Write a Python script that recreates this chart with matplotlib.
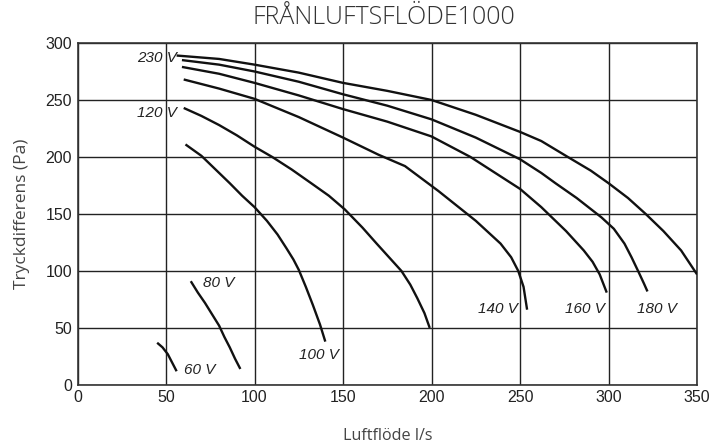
import matplotlib.pyplot as plt

# Fläktkurvor (luftflöde l/s, tryck Pa)
v230_x = [56, 80, 100, 125, 150, 175, 200, 225, 250, 262, 277, 290, 300, 311, 321, 331, 341, 350]
v230_y = [289, 286, 281, 274, 265, 258, 250, 237, 222, 214, 200, 188, 177, 164, 150, 135, 118, 97]

v180_x = [59, 80, 100, 125, 150, 175, 200, 225, 250, 262, 270, 282, 296, 303, 309, 313, 317, 320, 322]
v180_y = [285, 281, 275, 266, 255, 245, 233, 217, 198, 186, 177, 164, 147, 137, 124, 112, 99, 89, 82]

v160_x = [59, 80, 100, 125, 150, 175, 200, 222, 240, 250, 262, 276, 286, 291, 295, 299]
v160_y = [279, 273, 265, 254, 242, 231, 218, 200, 182, 172, 156, 135, 118, 108, 97, 81]

v140_x = [60, 80, 100, 125, 150, 170, 185, 204, 225, 239, 245, 249, 252, 254]
v140_y = [268, 260, 251, 235, 217, 202, 192, 170, 144, 124, 112, 100, 86, 66]

v120_x = [60, 70, 80, 90, 100, 110, 121, 132, 142, 151, 161, 169, 176, 183, 188, 192, 196, 199]
v120_y = [243, 236, 228, 219, 209, 200, 189, 177, 166, 154, 138, 124, 112, 100, 88, 76, 63, 50]

v100_x = [61, 70, 78, 86, 93, 100, 107, 113, 118, 122, 125, 129, 133, 137, 140]
v100_y = [211, 201, 189, 177, 166, 156, 144, 132, 120, 110, 101, 86, 70, 53, 38]

v80_x = [64, 68, 72, 76, 80, 83, 86, 89, 92]
v80_y = [91, 81, 72, 62, 52, 42, 33, 23, 14]

v60_x = [45, 48, 51, 54, 56]
v60_y = [37, 33, 27, 18, 12]

# Etiketter: text, x, y, justering
etiketter = [
    ('230 V', 56, 287, 'right'),
    ('120 V', 56, 239, 'right'),
    ('80 V', 71, 89, 'left'),
    ('60 V', 60, 13, 'left'),
    ('100 V', 125, 26, 'left'),
    ('140 V', 249, 67, 'right'),
    ('160 V', 298, 67, 'right'),
    ('180 V', 316, 67, 'left'),
]

fig = plt.figure(figsize=(7.13, 4.45), dpi=100)
ax = fig.add_axes([0.1087, 0.135, 0.9776 - 0.1087, 0.9034 - 0.135])

kurvor = [(v230_x, v230_y), (v180_x, v180_y), (v160_x, v160_y), (v140_x, v140_y),
          (v120_x, v120_y), (v100_x, v100_y), (v80_x, v80_y), (v60_x, v60_y)]
for kx, ky in kurvor:
    ax.plot(kx, ky, color='#111111', lw=1.7, solid_capstyle='butt',
            solid_joinstyle='round', zorder=3)

for text, tx, ty, ha in etiketter:
    ax.text(tx, ty, text, ha=ha, va='center', style='italic', fontsize=11,
            family='Liberation Sans', color='#222222', zorder=4)

ax.set_xlim(0, 350)
ax.set_ylim(0, 300)
ax.set_xticks(range(0, 351, 50))
ax.set_yticks(range(0, 301, 50))
ax.grid(True, color='#222222', lw=1.0)
ax.set_axisbelow(True)
ax.tick_params(length=0, pad=4, labelsize=11.5, colors='#222222')
for lab in ax.get_xticklabels() + ax.get_yticklabels():
    lab.set_family('Liberation Sans')
for sp in ax.spines.values():
    sp.set_color('#333333')
    sp.set_linewidth(1.2)

ax.set_xlabel('Luftflöde l/s', family='Open Sans', fontsize=11.6, color='#444444')
ax.xaxis.set_label_coords(0.5, -0.125)
ax.set_ylabel('Tryckdifferens (Pa)', family='Open Sans', fontsize=12.5, color='#444444')
ax.yaxis.set_label_coords(-0.077, 0.5)
fig.text(0.539, 0.961, 'FRÅNLUFTSFLÖDE1000', ha='center', va='center',
         family='Open Sans', fontsize=18, weight='light', color='#333333')

fig.savefig('out.png', dpi=100)
